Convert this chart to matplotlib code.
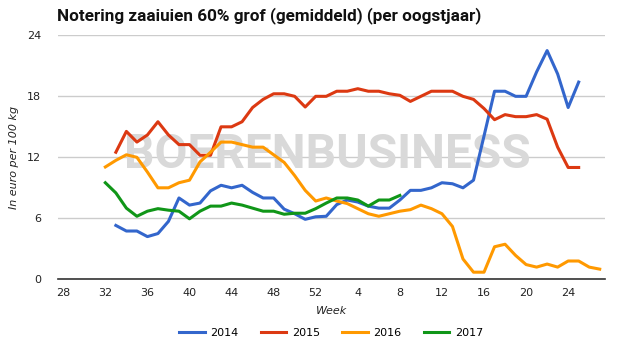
import numpy as np
import matplotlib
matplotlib.use("Agg")
import matplotlib.pyplot as plt

# harvest-year weeks: 28..52, then 1..27
weeks = list(range(28, 53)) + list(range(1, 28))
tick_labels = ["28", "32", "36", "40", "44", "48", "52", "4", "8", "12", "16", "20", "24"]

# values per series, starting at first week with data (index into weeks)
start_2014 = 5   # week 33
vals_2014 = [5.3, 4.75, 4.75, 4.2, 4.5, 5.7, 8.0, 7.3, 7.5, 8.7, 9.25, 9.0, 9.25, 8.55,
             8.0, 8.0, 6.9, 6.45, 5.9, 6.15, 6.2, 7.35, 7.8, 7.6, 7.2, 7.0, 7.0, 7.8,
             8.75, 8.75, 9.0, 9.5, 9.4, 9.0, 9.75, 14.1, 18.5, 18.5, 18.0, 18.0, 20.4,
             22.5, 20.2, 16.9, 19.4]

start_2015 = 5   # week 33
vals_2015 = [12.5, 14.55, 13.5, 14.2, 15.5, 14.2, 13.25, 13.25, 12.2, 12.2, 15.0, 15.0,
             15.5, 16.9, 17.7, 18.25, 18.25, 18.0, 16.95, 18.0, 18.0, 18.5, 18.5, 18.75,
             18.5, 18.5, 18.25, 18.1, 17.5, 18.0, 18.5, 18.5, 18.5, 18.0, 17.7, 16.8,
             15.7, 16.2, 16.0, 16.0, 16.2, 15.75, 13.0, 11.0, 11.0]

start_2016 = 4   # week 32
vals_2016 = [11.05, 11.7, 12.25, 12.0, 10.55, 9.0, 9.0, 9.5, 9.75, 11.55, 12.5, 13.5,
             13.5, 13.25, 13.0, 13.0, 12.25, 11.5, 10.2, 8.75, 7.7, 8.0, 7.7, 7.45,
             6.95, 6.45, 6.2, 6.45, 6.7, 6.85, 7.3, 6.95, 6.45, 5.2, 2.0, 0.7, 0.7, 3.2,
             3.45, 2.35, 1.45, 1.2, 1.5, 1.2, 1.8, 1.8, 1.2, 1.0]

start_2017 = 4   # week 32
vals_2017 = [9.5, 8.5, 7.0, 6.2, 6.7, 6.95, 6.8, 6.7, 5.95, 6.7, 7.2, 7.2, 7.5, 7.3,
             7.0, 6.7, 6.7, 6.4, 6.5, 6.5, 6.95, 7.5, 8.0, 8.0, 7.8, 7.2, 7.8, 7.8, 8.25]

series = [("2014", start_2014, vals_2014, "#3366cc"),
          ("2015", start_2015, vals_2015, "#dc3912"),
          ("2016", start_2016, vals_2016, "#ff9900"),
          ("2017", start_2017, vals_2017, "#109618")]

fig = plt.figure(figsize=(6.21, 3.43), dpi=100)
ax = fig.add_axes([0.0934, 0.1857, 0.8808, 0.7113])

# watermark
ax.text(0.493, 0.51, "BOERENBUSINESS", transform=ax.transAxes, ha="center", va="center",
        fontsize=34.5, fontweight="bold", color="#d9d9d9",
        family="Roboto", zorder=1)

for name, start, vals, col in series:
    x = np.arange(start, start + len(vals))
    ax.plot(x, vals, color=col, lw=2.2, label=name, zorder=3, solid_joinstyle="round")

ax.set_xlim(-0.5, len(weeks) - 0.5)
ax.set_ylim(0, 24)
ax.set_yticks([0, 6, 12, 18, 24])
ax.set_xticks([weeks.index(int(t)) if i < 7 else 24 + int(t) for i, t in enumerate(tick_labels)])
ax.set_xticklabels(tick_labels)
ax.grid(axis="y", color="#cccccc", lw=1)
ax.set_axisbelow(True)
for s in ["top", "right", "left"]:
    ax.spines[s].set_visible(False)
ax.spines["bottom"].set_color("#333333")
ax.spines["bottom"].set_linewidth(1.2)
ax.tick_params(length=0, labelsize=8, colors="#222222", pad=6)
ax.tick_params(axis="y", pad=12)

ax.set_xlabel("Week", fontstyle="italic", fontsize=8, color="#222222", labelpad=6)
ax.set_ylabel("In euro per 100 kg", fontstyle="italic", fontsize=8, color="#222222", labelpad=6)

fig.text(0.092, 0.955, "Notering zaaiuien 60% grof (gemiddeld) (per oogstjaar)",
         fontsize=12.3, fontweight="bold", va="center", ha="left", color="#111111",
         family="Roboto")

fig.legend(loc="center", bbox_to_anchor=(0.533, 0.03), ncol=4, frameon=False,
           fontsize=8, handlelength=2.3, columnspacing=2.0, handletextpad=0.5)

fig.savefig("out.png", dpi=100)
